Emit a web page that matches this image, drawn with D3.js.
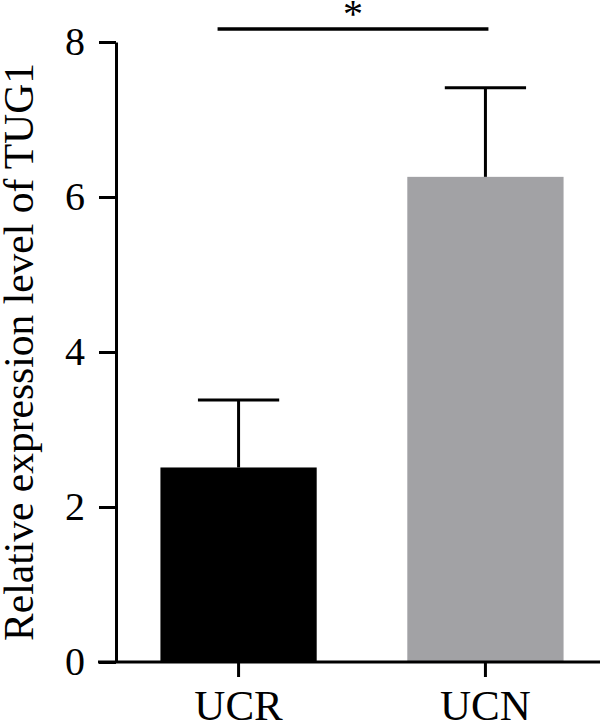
<!DOCTYPE html>
<html lang="en">
<head>
<meta charset="UTF-8"/>
<script src="https://d3js.org/d3.v7.min.js"></script>
<title>TUG1</title>
<style>
  body { margin: 0; background: #fff; }
  text { font-family: "Liberation Serif", "Times New Roman", serif; fill: #000; }
</style>
</head>
<body>
<div id="chart"></div>
<script>
// data
var groups = ["UCR", "UCN"];
var means = [2.51, 6.26];
var errTops = [3.38, 7.41];
var barColors = ["#000000", "#a2a2a5"];
var yTicks = [0, 2, 4, 6, 8];
var yTitle = "Relative expression level of TUG1";

var width = 600, height = 724;

var svg = d3.select("#chart").append("svg")
  .attr("width", width)
  .attr("height", height);

var y = d3.scaleLinear().domain([0, 8]).range([662, 42]);

var x = d3.scaleBand()
  .domain(groups)
  .range([116, 608])
  .paddingInner(0.367)
  .paddingOuter(0.18);

// bars
svg.selectAll("rect.bar")
  .data(groups)
  .enter()
  .append("rect")
  .attr("class", "bar")
  .attr("x", d => x(d))
  .attr("width", x.bandwidth())
  .attr("y", (d, i) => y(means[i]))
  .attr("height", (d, i) => y(0) - y(means[i]))
  .attr("fill", (d, i) => barColors[i]);

// error bars (upper only)
var capW = x.bandwidth() * 0.52;
groups.forEach(function(g, i) {
  var cx = x(g) + x.bandwidth() / 2;
  svg.append("line")
    .attr("x1", cx).attr("x2", cx)
    .attr("y1", y(means[i])).attr("y2", y(errTops[i]))
    .attr("stroke", "#000").attr("stroke-width", 3);
  svg.append("line")
    .attr("x1", cx - capW / 2).attr("x2", cx + capW / 2)
    .attr("y1", y(errTops[i])).attr("y2", y(errTops[i]))
    .attr("stroke", "#000").attr("stroke-width", 3);
});

// y axis
var yAxis = svg.append("g")
  .attr("transform", "translate(116,0)")
  .call(d3.axisLeft(y).tickValues(yTicks).tickSize(17).tickSizeOuter(0).tickPadding(14));
yAxis.selectAll("path, line").attr("stroke", "#000").attr("stroke-width", 3);
yAxis.selectAll("text").style("font-size", "40px").attr("font-family", null);

// x axis
var xAxis = svg.append("g")
  .attr("transform", "translate(0,662)")
  .call(d3.axisBottom(x).tickSize(15).tickSizeOuter(0).tickPadding(12));
xAxis.select(".domain").remove();
xAxis.selectAll("line").attr("stroke", "#000").attr("stroke-width", 3);
xAxis.selectAll("text").style("font-size", "43px").attr("font-family", null).attr("dy", "0.71em");

svg.append("line")
  .attr("x1", 98).attr("x2", 600)
  .attr("y1", 662).attr("y2", 662)
  .attr("stroke", "#000").attr("stroke-width", 3);

// y title
svg.append("text")
  .attr("transform", "translate(33,352) rotate(-90)")
  .attr("text-anchor", "middle")
  .style("font-size", "41.5px")
  .text(yTitle);

// significance bracket
var sx1 = x("UCR") + x.bandwidth() / 2 - 21;
var sx2 = x("UCN") + x.bandwidth() / 2 + 3;
svg.append("line")
  .attr("x1", sx1).attr("x2", sx2)
  .attr("y1", 29).attr("y2", 29)
  .attr("stroke", "#000").attr("stroke-width", 3.5);
svg.append("text")
  .attr("x", (sx1 + sx2) / 2)
  .attr("y", 27)
  .attr("text-anchor", "middle")
  .style("font-size", "40px")
  .text("*");
</script>
</body>
</html>
